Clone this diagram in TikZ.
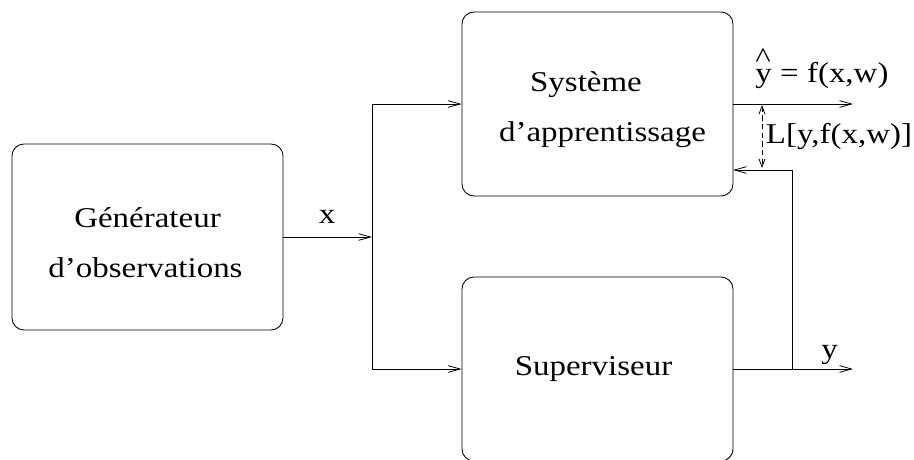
\documentclass[tikz,border=0pt]{standalone}
\usepackage{fontspec}
\setmainfont{Liberation Serif}
\usetikzlibrary{arrows.meta}
\newcommand{\wt}[1]{\scalebox{1.15}[1]{#1}}
\begin{document}
\begin{tikzpicture}[x=0.75pt,y=-0.75pt,
  box/.style={draw, rounded corners=9pt, line width=0.65pt, inner sep=0pt},
  arr/.style={line width=0.65pt, -{Straight Barb[length=9pt,width=5pt,line width=0.6pt]}},
  lbl/.style={inner sep=0pt, anchor=base, font=\fontsize{21.5pt}{26pt}\selectfont}]
\useasboundingbox (0,0) rectangle (914,460);
\clip (0,0) rectangle (914,460);
% boxes
\node[box, minimum width={271*0.75pt}, minimum height={186*0.75pt}] (gen) at (147.5,237) {};
\node[box, minimum width={271*0.75pt}, minimum height={184*0.75pt}] (sys) at (597.5,104) {};
\node[box, minimum width={271*0.75pt}, minimum height={184*0.75pt}] (sup) at (597.5,369) {};
% box texts
\node[lbl] (g1) at (147.5,227) {\wt{Générateur}};
\node[lbl] (g2) at (145.5,277) {\wt{d’observations}};
\node[lbl] (s1) at (586,92) {\wt{Système}};
\node[lbl] (s2) at (602.5,142) {\wt{d’apprentissage}};
\node[lbl] (p1) at (593.5,375) {\wt{Superviseur}};
% coordinates
\coordinate (j) at (372,237);
\coordinate (yhat) at (853,104);
\coordinate (yend) at (853,369);
\coordinate (fb) at (792,369);
\coordinate (fbin) at (733,170);
\coordinate (la) at (762,105);
\coordinate (lb) at (762,168);
% connectors
\draw[arr] (gen.east) -- (j);
\draw[arr] (j) |- (sys.west);
\draw[arr] (j) |- (sup.west);
\draw[arr] (sys.east) -- (yhat);
\draw[arr] (sup.east) -- (yend);
\draw[arr] (fb) |- (fbin);
\draw[line width=0.6pt, dash pattern=on 4pt off 2.5pt, {Straight Barb[length=6pt,width=4.5pt,line width=0.6pt]}-{Straight Barb[length=6pt,width=4.5pt,line width=0.6pt]}] (la) -- (lb);
% labels
\node[lbl] (lx) at (327,223) {\wt{x}};
\node[lbl] (lyh) at (822,83) {\wt{\makebox[0pt][l]{\hspace{0.0em}\raisebox{0.55em}{\^{}}}y = f(x,w)}};
\node[lbl] (lL) at (839,143) {\wt{L[y,f(x,w)]}};
\node[lbl] (ly) at (829.5,358) {\wt{y}};
\end{tikzpicture}
\end{document}
